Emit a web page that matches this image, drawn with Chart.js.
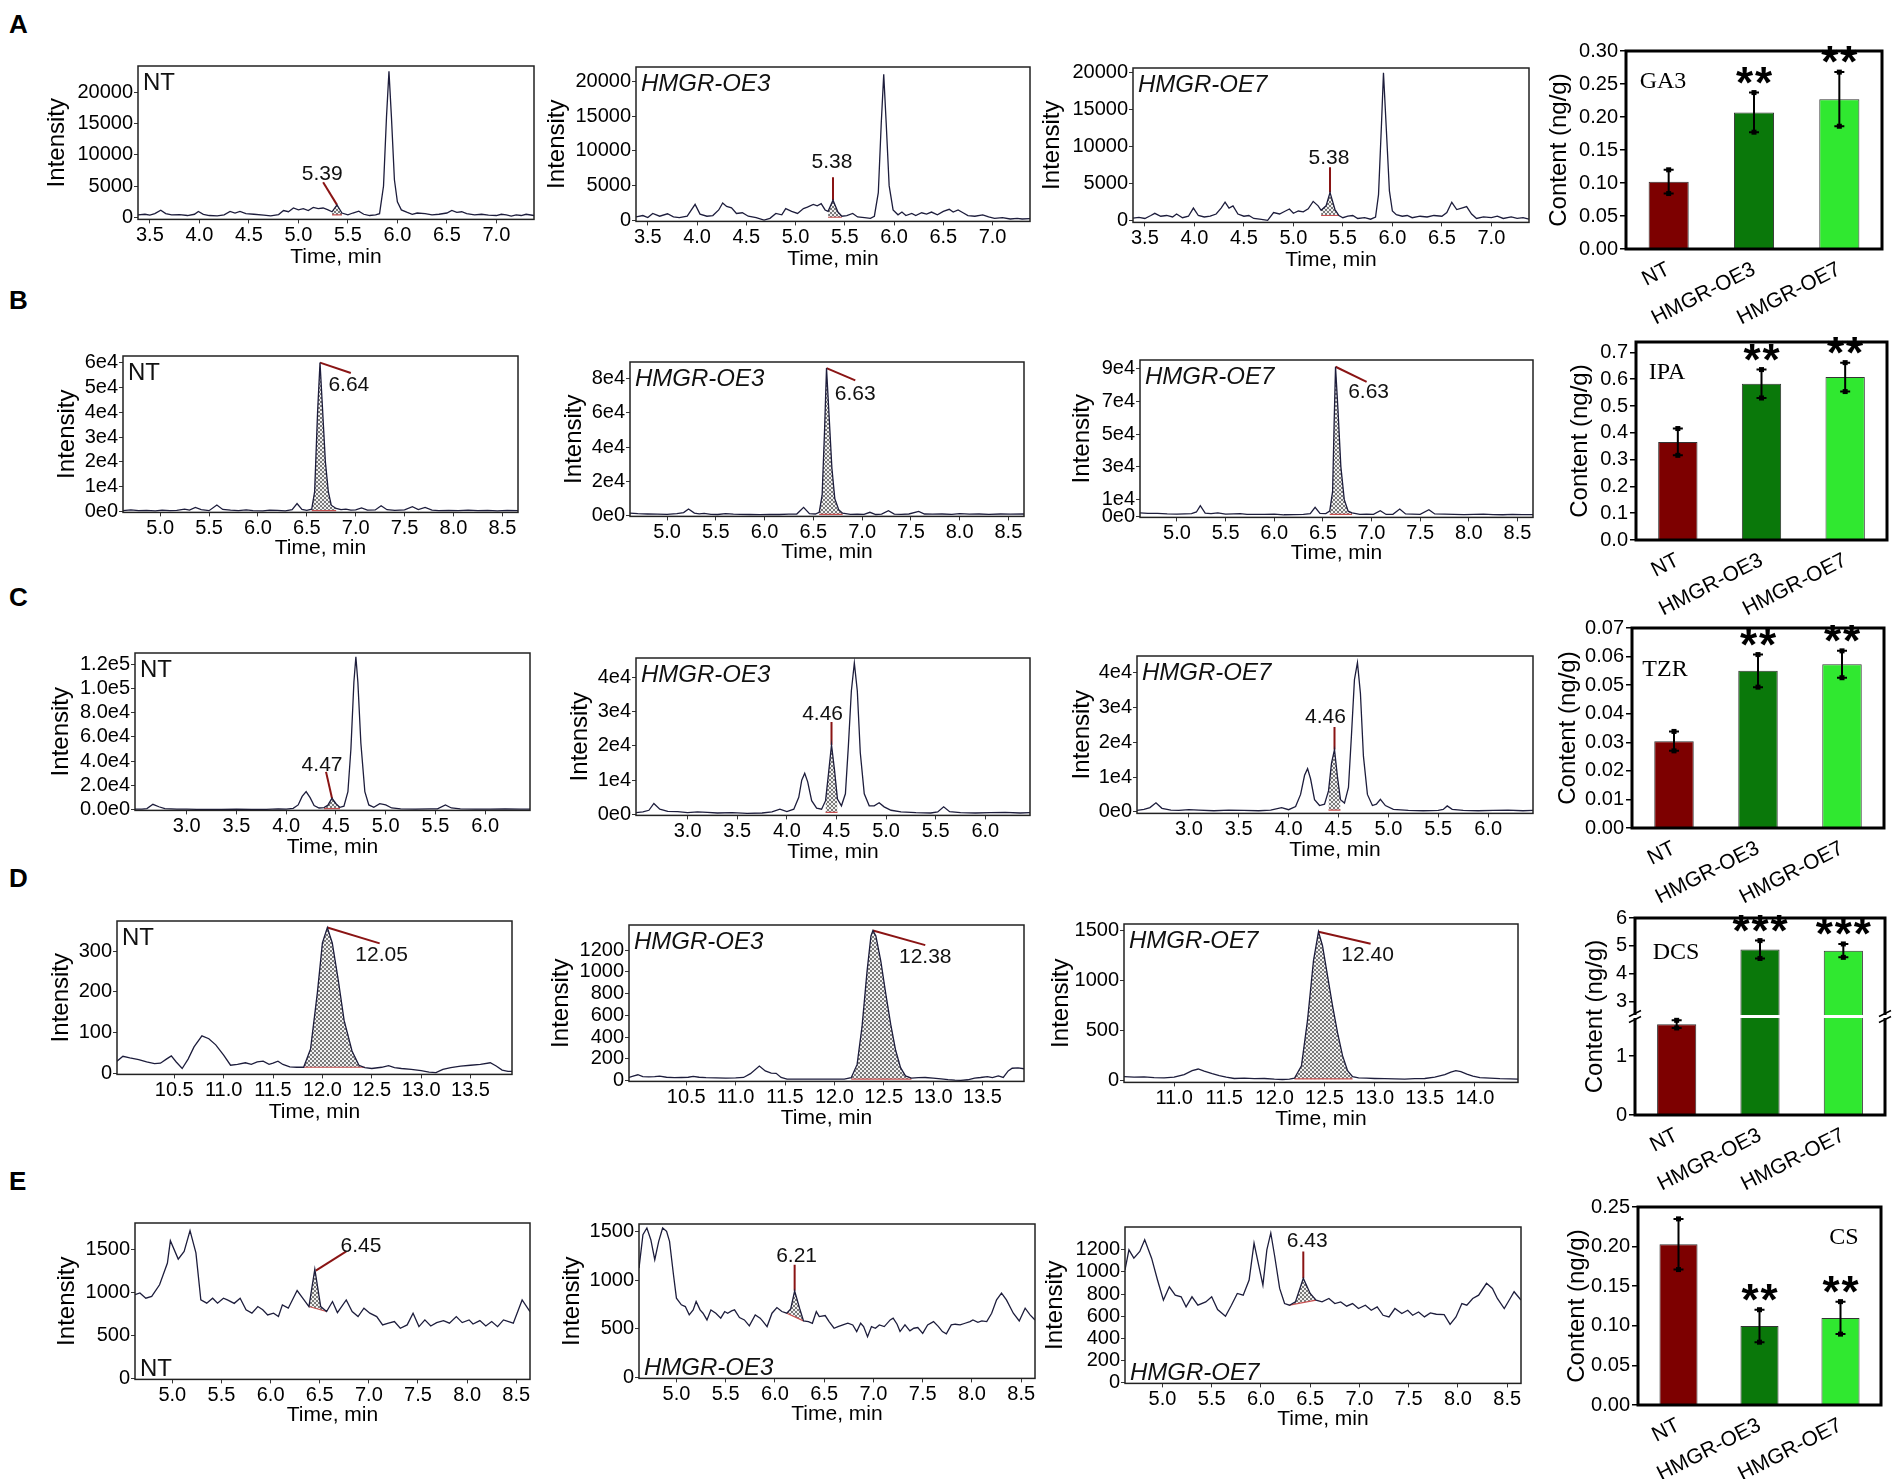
<!DOCTYPE html>
<html><head><meta charset="utf-8"><title>HMGR hormone chromatograms</title>
<script src="https://cdn.jsdelivr.net/npm/chart.js@4.4.0/dist/chart.umd.min.js"></script>
<style>
html,body{margin:0;padding:0;background:#fff}
body{position:relative;width:1904px;height:1479px;overflow:hidden}
canvas{position:absolute}
.lt{position:absolute;font:bold 26px 'Liberation Sans',Arial,sans-serif;line-height:1;color:#000}
</style></head><body>
<div class="lt" style="left:9px;top:11px">A</div>
<div class="lt" style="left:9px;top:287px">B</div>
<div class="lt" style="left:9px;top:584px">C</div>
<div class="lt" style="left:9px;top:865px">D</div>
<div class="lt" style="left:9px;top:1168px">E</div>
<script>
const FONT="'Liberation Sans', Arial, Helvetica, sans-serif";
const SERIF="'Liberation Serif', 'Times New Roman', serif";
Chart.defaults.color='#000';
Chart.defaults.font.family=FONT;

// ---------------- chromatogram traces [time (min), intensity] ----------------
const A_NT=[[3.38,400],[3.45,500],[3.5,350],[3.55,600],[3.61,1150],[3.66,600],[3.72,400],[3.8,450],[3.88,300],[3.95,500],[3.99,950],[4.04,500],[4.1,300],[4.18,250],[4.25,400],[4.31,950],[4.36,700],[4.41,950],[4.47,600],[4.55,500],[4.65,350],[4.72,250],[4.8,450],[4.85,1100],[4.9,900],[4.95,1500],[5.0,1200],[5.05,1400],[5.1,1100],[5.15,1600],[5.2,1400],[5.25,1500],[5.3,1200],[5.34,900],[5.39,2000],[5.44,700],[5.5,400],[5.55,700],[5.61,1000],[5.66,500],[5.72,300],[5.78,400],[5.82,600],[5.86,5000],[5.89,16000],[5.915,23300],[5.94,16000],[5.97,6000],[6.0,2500],[6.04,1200],[6.1,800],[6.15,500],[6.2,700],[6.28,600],[6.35,400],[6.42,500],[6.5,700],[6.55,1100],[6.6,800],[6.65,900],[6.7,600],[6.78,400],[6.85,500],[6.92,350],[7.0,300],[7.05,500],[7.1,400],[7.15,200],[7.2,400],[7.25,300],[7.3,500],[7.38,300]];
const A_OE3=[[3.38,500],[3.45,700],[3.5,400],[3.55,1000],[3.62,600],[3.7,950],[3.76,500],[3.82,400],[3.9,600],[3.98,2300],[4.03,900],[4.1,600],[4.16,700],[4.22,1500],[4.26,2500],[4.3,2000],[4.35,1800],[4.4,1000],[4.46,1100],[4.52,600],[4.6,400],[4.68,50],[4.74,300],[4.8,1000],[4.86,800],[4.9,1700],[4.96,1300],[5.02,1000],[5.08,1700],[5.12,1900],[5.18,2300],[5.22,2100],[5.26,2400],[5.3,1500],[5.33,1300],[5.38,2900],[5.43,1200],[5.47,600],[5.52,700],[5.58,1000],[5.63,500],[5.7,400],[5.76,300],[5.8,600],[5.84,4000],[5.87,14000],[5.895,21000],[5.92,14000],[5.95,5000],[5.99,1500],[6.04,800],[6.08,1200],[6.12,700],[6.18,1000],[6.22,700],[6.28,1100],[6.33,900],[6.38,1200],[6.44,800],[6.5,1300],[6.56,1600],[6.6,1200],[6.65,1500],[6.7,1100],[6.75,700],[6.82,600],[6.9,800],[6.96,500],[7.02,300],[7.1,400],[7.18,200],[7.25,300],[7.3,200],[7.38,250]];
const A_OE7=[[3.38,350],[3.44,450],[3.5,300],[3.56,700],[3.6,990],[3.66,600],[3.72,700],[3.78,500],[3.82,900],[3.88,400],[3.94,600],[3.99,1700],[4.04,700],[4.1,500],[4.16,600],[4.22,900],[4.27,1700],[4.31,2500],[4.35,1700],[4.39,2000],[4.44,900],[4.5,600],[4.55,700],[4.6,300],[4.66,200],[4.74,50],[4.8,1100],[4.86,900],[4.92,1300],[4.96,1570],[5.0,1000],[5.05,1300],[5.1,1200],[5.15,1600],[5.2,2600],[5.25,2000],[5.28,1400],[5.33,2000],[5.37,3800],[5.42,1500],[5.46,700],[5.5,400],[5.55,600],[5.6,700],[5.65,300],[5.72,400],[5.78,200],[5.83,500],[5.86,3500],[5.89,13000],[5.91,19900],[5.94,12000],[5.97,4000],[6.0,1300],[6.04,800],[6.1,600],[6.15,700],[6.2,400],[6.28,600],[6.35,500],[6.42,700],[6.5,600],[6.55,1100],[6.6,2470],[6.65,1500],[6.7,1700],[6.75,1900],[6.8,900],[6.85,300],[6.92,500],[7.0,400],[7.06,600],[7.12,300],[7.2,500],[7.26,300],[7.32,400],[7.38,200]];
const B_NT=[[4.62,300],[4.7,600],[4.78,300],[4.86,400],[4.95,200],[5.02,500],[5.1,300],[5.17,400],[5.25,900],[5.3,500],[5.36,1600],[5.42,700],[5.5,300],[5.58,2560],[5.64,800],[5.72,500],[5.8,300],[5.88,600],[5.95,300],[6.05,200],[6.12,500],[6.2,400],[6.28,200],[6.35,700],[6.4,3200],[6.45,800],[6.5,400],[6.55,900],[6.58,8000],[6.61,40000],[6.635,60000],[6.66,42000],[6.69,20000],[6.72,8000],[6.75,2500],[6.8,1200],[6.85,700],[6.9,900],[6.95,500],[7.0,600],[7.06,1400],[7.12,500],[7.2,600],[7.26,2300],[7.32,700],[7.4,400],[7.5,600],[7.58,1900],[7.64,700],[7.71,1600],[7.78,500],[7.85,300],[7.95,400],[8.05,300],[8.15,500],[8.25,300],[8.35,400],[8.45,200],[8.55,400],[8.66,300]];
const B_OE3=[[4.62,1500],[4.7,1200],[4.8,1000],[4.9,900],[5.0,800],[5.1,1200],[5.17,1800],[5.22,3900],[5.28,1500],[5.33,1100],[5.38,1400],[5.45,800],[5.52,700],[5.6,1200],[5.68,900],[5.75,800],[5.85,700],[5.95,600],[6.05,800],[6.15,700],[6.25,900],[6.33,1000],[6.4,4900],[6.46,1200],[6.52,1000],[6.56,2000],[6.59,12000],[6.615,50000],[6.635,86200],[6.66,60000],[6.69,28000],[6.72,10000],[6.76,3500],[6.8,1500],[6.88,800],[6.95,900],[7.02,800],[7.08,2000],[7.14,700],[7.2,900],[7.27,2900],[7.33,900],[7.4,800],[7.48,1000],[7.58,2500],[7.64,1000],[7.72,900],[7.82,1000],[7.92,800],[8.0,1200],[8.1,900],[8.2,1000],[8.3,800],[8.42,1000],[8.52,900],[8.66,1000]];
const B_OE7=[[4.62,2000],[4.7,1700],[4.8,1600],[4.9,1300],[5.0,1200],[5.08,1400],[5.15,1500],[5.2,2500],[5.24,6300],[5.29,1800],[5.35,1500],[5.42,2000],[5.5,1200],[5.58,1400],[5.65,1500],[5.72,1000],[5.8,1100],[5.9,1000],[6.0,1200],[6.1,800],[6.2,900],[6.3,1000],[6.37,1500],[6.42,5300],[6.47,1600],[6.53,1500],[6.57,3000],[6.6,15000],[6.615,55000],[6.63,91000],[6.655,65000],[6.685,30000],[6.72,10000],[6.76,3000],[6.8,2000],[6.88,1000],[6.95,1200],[7.02,1100],[7.09,3300],[7.15,1000],[7.22,1100],[7.29,4300],[7.35,1300],[7.42,1200],[7.5,1100],[7.59,3900],[7.65,1300],[7.75,1200],[7.85,1000],[7.95,900],[8.05,1000],[8.15,1200],[8.25,900],[8.35,800],[8.45,1000],[8.55,900],[8.66,900]];
const C_NT=[[2.48,500],[2.55,600],[2.6,1000],[2.66,4500],[2.72,2500],[2.78,1000],[2.9,500],[3.0,600],[3.1,300],[3.2,400],[3.35,300],[3.5,500],[3.65,300],[3.8,400],[3.92,800],[4.0,600],[4.07,1200],[4.12,4000],[4.16,11000],[4.2,15000],[4.24,10000],[4.28,3500],[4.33,1500],[4.38,1800],[4.42,4000],[4.46,9500],[4.5,5000],[4.54,2000],[4.58,3000],[4.62,15000],[4.65,50000],[4.68,105000],[4.7,126000],[4.72,105000],[4.75,55000],[4.79,15000],[4.83,4000],[4.88,2000],[4.94,5000],[5.0,4000],[5.06,1500],[5.15,800],[5.3,600],[5.45,700],[5.52,800],[5.6,4000],[5.66,1500],[5.75,700],[5.9,500],[6.05,600],[6.2,700],[6.35,500],[6.45,600]];
const C_OE3=[[2.48,500],[2.55,700],[2.61,1200],[2.66,3200],[2.72,1500],[2.8,900],[2.9,800],[3.0,500],[3.1,700],[3.2,600],[3.3,400],[3.45,500],[3.6,300],[3.75,400],[3.85,700],[3.93,1500],[4.0,800],[4.07,1500],[4.12,5000],[4.15,10000],[4.18,12000],[4.21,9500],[4.25,4000],[4.3,1800],[4.35,1500],[4.39,4000],[4.42,12000],[4.45,20300],[4.48,13000],[4.51,4500],[4.55,2500],[4.59,6000],[4.62,20000],[4.65,36000],[4.68,44200],[4.71,36000],[4.74,18000],[4.78,6000],[4.83,2500],[4.88,2500],[4.93,3400],[4.98,2200],[5.05,1200],[5.15,700],[5.3,500],[5.45,400],[5.52,700],[5.58,2200],[5.64,800],[5.75,500],[5.9,400],[6.05,500],[6.2,600],[6.35,400],[6.45,500]];
const C_OE7=[[2.48,400],[2.55,700],[2.61,1200],[2.67,2600],[2.73,1000],[2.82,500],[2.9,400],[3.0,600],[3.1,500],[3.25,300],[3.4,500],[3.55,400],[3.7,300],[3.82,500],[3.93,1200],[4.0,600],[4.07,1500],[4.12,5000],[4.16,10500],[4.19,12400],[4.22,9500],[4.26,3500],[4.31,1800],[4.36,2200],[4.4,6000],[4.43,14000],[4.46,17900],[4.49,10000],[4.52,3500],[4.56,2500],[4.6,7000],[4.63,22000],[4.66,38000],[4.69,42900],[4.72,34000],[4.75,16000],[4.79,5000],[4.84,1800],[4.88,2200],[4.92,3600],[4.97,1800],[5.05,700],[5.2,400],[5.35,300],[5.5,400],[5.55,700],[5.59,1700],[5.64,700],[5.75,400],[5.9,300],[6.05,400],[6.2,500],[6.35,300],[6.45,400]];
const D_NT=[[9.92,30],[9.98,42],[10.05,38],[10.14,34],[10.22,28],[10.3,24],[10.36,25],[10.42,35],[10.47,43],[10.52,28],[10.58,12],[10.64,35],[10.7,65],[10.78,92],[10.85,85],[10.92,70],[11.0,45],[11.07,20],[11.14,22],[11.22,26],[11.28,22],[11.34,28],[11.4,30],[11.46,22],[11.5,25],[11.55,30],[11.6,22],[11.67,16],[11.74,15],[11.81,15],[11.88,60],[11.95,200],[12.0,320],[12.05,358],[12.1,320],[12.16,230],[12.22,130],[12.3,55],[12.37,20],[12.43,14],[12.5,12],[12.6,15],[12.67,19],[12.73,14],[12.8,12],[12.9,10],[13.0,7],[13.08,3],[13.15,2],[13.22,10],[13.3,14],[13.4,18],[13.5,20],[13.6,22],[13.7,26],[13.76,18],[13.82,8],[13.88,5],[13.92,5]];
const D_OE3=[[9.92,30],[9.97,45],[10.01,55],[10.06,38],[10.12,35],[10.18,38],[10.23,42],[10.3,32],[10.38,28],[10.45,30],[10.52,32],[10.57,40],[10.63,32],[10.7,28],[10.8,26],[10.9,24],[11.0,26],[11.08,30],[11.15,65],[11.24,135],[11.3,90],[11.36,70],[11.41,68],[11.46,30],[11.52,15],[11.6,14],[11.7,14],[11.8,14],[11.9,14],[12.0,14],[12.1,15],[12.17,28],[12.23,150],[12.28,500],[12.33,1000],[12.37,1330],[12.39,1380],[12.42,1330],[12.47,1100],[12.52,800],[12.57,520],[12.62,280],[12.67,120],[12.72,45],[12.78,25],[12.85,28],[12.92,30],[13.0,25],[13.08,18],[13.15,10],[13.22,5],[13.28,3],[13.35,9],[13.42,25],[13.48,30],[13.55,38],[13.6,28],[13.66,45],[13.71,31],[13.76,90],[13.8,115],[13.86,118],[13.92,110]];
const D_OE7=[[10.5,40],[10.6,35],[10.7,38],[10.8,30],[10.9,28],[11.0,35],[11.1,60],[11.18,100],[11.24,117],[11.3,95],[11.38,70],[11.45,50],[11.52,35],[11.6,22],[11.7,25],[11.8,20],[11.9,22],[12.0,15],[12.08,12],[12.15,15],[12.2,25],[12.27,150],[12.33,600],[12.39,1200],[12.44,1490],[12.48,1350],[12.53,1050],[12.58,750],[12.63,480],[12.68,250],[12.73,100],[12.78,40],[12.84,28],[12.92,25],[13.0,22],[13.1,20],[13.2,18],[13.3,15],[13.4,20],[13.5,22],[13.6,35],[13.7,60],[13.76,85],[13.81,100],[13.86,90],[13.92,65],[13.98,45],[14.05,30],[14.15,25],[14.25,20],[14.35,18],[14.43,15]];
const E_NT=[[4.62,970],[4.67,990],[4.73,930],[4.79,950],[4.87,1085],[4.95,1337],[4.98,1597],[5.06,1383],[5.12,1473],[5.18,1713],[5.24,1455],[5.29,910],[5.35,872],[5.41,930],[5.46,872],[5.52,930],[5.56,910],[5.63,870],[5.69,930],[5.75,795],[5.81,756],[5.87,833],[5.92,795],[5.97,736],[6.03,756],[6.08,717],[6.12,852],[6.18,814],[6.27,1019],[6.34,910],[6.39,833],[6.45,1267],[6.51,833],[6.57,775],[6.63,891],[6.68,763],[6.77,910],[6.83,775],[6.89,717],[6.95,814],[7.01,756],[7.08,717],[7.14,620],[7.2,640],[7.26,659],[7.32,581],[7.39,620],[7.45,756],[7.51,600],[7.57,678],[7.63,608],[7.69,647],[7.76,670],[7.82,640],[7.89,717],[7.95,647],[8.02,678],[8.06,630],[8.13,670],[8.19,608],[8.25,659],[8.31,600],[8.37,678],[8.47,640],[8.56,910],[8.64,775]];
const E_OE3=[[4.62,1123],[4.66,1466],[4.7,1534],[4.74,1414],[4.78,1209],[4.82,1397],[4.86,1534],[4.9,1500],[4.93,1397],[4.97,1055],[5.0,815],[5.05,747],[5.09,729],[5.13,644],[5.17,695],[5.2,781],[5.24,695],[5.27,661],[5.31,592],[5.35,695],[5.4,661],[5.45,610],[5.49,678],[5.52,661],[5.56,685],[5.59,695],[5.64,616],[5.69,592],[5.74,531],[5.8,644],[5.85,610],[5.88,575],[5.92,524],[5.97,661],[6.02,719],[6.07,678],[6.12,661],[6.16,705],[6.2,890],[6.25,712],[6.29,582],[6.34,575],[6.38,558],[6.42,678],[6.45,627],[6.51,637],[6.55,575],[6.6,507],[6.64,524],[6.69,541],[6.74,558],[6.79,541],[6.83,473],[6.87,558],[6.9,524],[6.94,421],[6.98,524],[7.02,507],[7.06,541],[7.11,524],[7.17,592],[7.2,610],[7.24,548],[7.27,473],[7.32,541],[7.37,480],[7.41,507],[7.45,514],[7.5,455],[7.55,541],[7.61,575],[7.66,524],[7.7,473],[7.74,449],[7.79,541],[7.83,548],[7.88,541],[7.93,558],[7.98,575],[8.01,592],[8.06,568],[8.1,582],[8.15,575],[8.2,661],[8.25,798],[8.3,866],[8.35,798],[8.42,661],[8.48,582],[8.54,712],[8.59,644],[8.64,592]];
const E_OE7=[[4.62,1018],[4.66,1200],[4.71,1125],[4.77,1185],[4.82,1292],[4.89,1125],[4.95,927],[5.01,745],[5.07,866],[5.13,790],[5.19,775],[5.24,684],[5.3,775],[5.36,699],[5.44,729],[5.5,775],[5.56,660],[5.64,599],[5.7,699],[5.76,805],[5.82,790],[5.88,927],[5.93,1261],[5.98,1049],[6.02,881],[6.06,1200],[6.1,1353],[6.14,1140],[6.19,851],[6.24,714],[6.29,699],[6.35,729],[6.43,942],[6.5,805],[6.56,745],[6.62,729],[6.69,760],[6.75,714],[6.81,729],[6.87,690],[6.93,714],[6.99,669],[7.06,699],[7.12,653],[7.18,684],[7.24,608],[7.3,593],[7.36,669],[7.43,623],[7.49,653],[7.54,608],[7.6,638],[7.66,593],[7.72,629],[7.78,617],[7.86,614],[7.92,526],[7.98,593],[8.04,714],[8.09,699],[8.15,760],[8.21,790],[8.29,897],[8.35,851],[8.4,760],[8.47,669],[8.53,760],[8.57,821],[8.64,745]];

// integrated peaks: [start time, end time, baseline at start, baseline at end]
const A_NT_PEAK=[5.34,5.44,400,400], A_OE3_PEAK=[5.33,5.47,450,450], A_OE7_PEAK=[5.28,5.46,700,700];
const B_NT_PEAK=[6.55,6.8,300,300], B_OE3_PEAK=[6.56,6.8,800,800], B_OE7_PEAK=[6.57,6.8,1100,1100];
const C_NT_PEAK=[4.38,4.54,900,900], C_OE3_PEAK=[4.39,4.51,600,600], C_OE7_PEAK=[4.4,4.52,500,500];
const D_NT_PEAK=[11.81,12.43,15,15], D_OE3_PEAK=[12.17,12.78,15,15], D_OE7_PEAK=[12.2,12.78,18,18];
const E_NT_PEAK=[6.39,6.57,833,775], E_OE3_PEAK=[6.12,6.29,661,582], E_OE7_PEAK=[6.29,6.56,699,745];

// tick values / labels
const xTicksA=[3.5,4,4.5,5,5.5,6,6.5,7];
const xTicksB=[5,5.5,6,6.5,7,7.5,8,8.5];
const xTicksC=[3,3.5,4,4.5,5,5.5,6];
const xTicksD=[10.5,11,11.5,12,12.5,13,13.5];
const xTicksD7=[11,11.5,12,12.5,13,13.5,14];
const xTicksE=[5,5.5,6,6.5,7,7.5,8,8.5];
const yTicksA=[0,5000,10000,15000,20000], yLabA=['0','5000','10000','15000','20000'];
const yTicksBnt=[0,1e4,2e4,3e4,4e4,5e4,6e4], yLabBnt=['0e0','1e4','2e4','3e4','4e4','5e4','6e4'];
const yTicksB3=[0,2e4,4e4,6e4,8e4], yLabB3=['0e0','2e4','4e4','6e4','8e4'];
const yTicksB7=[0,1e4,3e4,5e4,7e4,9e4], yLabB7=['0e0','1e4','3e4','5e4','7e4','9e4'];
const yTicksCnt=[0,2e4,4e4,6e4,8e4,1e5,1.2e5], yLabCnt=['0.0e0','2.0e4','4.0e4','6.0e4','8.0e4','1.0e5','1.2e5'];
const yTicksC=[0,1e4,2e4,3e4,4e4], yLabC=['0e0','1e4','2e4','3e4','4e4'];
const yTicksDnt=[0,100,200,300], yLabDnt=['0','100','200','300'];
const yTicksD3=[0,200,400,600,800,1000,1200], yLabD3=['0','200','400','600','800','1000','1200'];
const yTicksD7=[0,500,1000,1500], yLabD7=['0','500','1000','1500'];
const yTicksE=[0,500,1000,1500], yLabE=['0','500','1000','1500'];
const yTicksE7=[0,200,400,600,800,1000,1200], yLabE7=['0','200','400','600','800','1000','1200'];

// ---------------- bar charts: content (ng/g) ----------------
const barCats=['NT','HMGR-OE3','HMGR-OE7'];
const barColors=['#7d0000','#0a780a','#30e830'];
const GA3_VAL=[0.102,0.207,0.227], GA3_ERR=[0.018,0.030,0.041], GA3_STARS=['','**','**'];
const IPA_VAL=[0.366,0.583,0.608], IPA_ERR=[0.050,0.053,0.054], IPA_STARS=['','**','**'];
const TZR_VAL=[0.0304,0.055,0.0573], TZR_ERR=[0.0034,0.0057,0.0047], TZR_STARS=['','**','**'];
const DCS_VAL=[1.545,4.87,4.83], DCS_ERR=[0.065,0.32,0.24], DCS_STARS=['','***','***'];
const CS_VAL=[0.203,0.0998,0.110], CS_ERR=[0.032,0.0205,0.0205], CS_STARS=['','**','**'];
const GA3_TICKS=[0,0.05,0.1,0.15,0.2,0.25,0.3];
const IPA_TICKS=[0,0.1,0.2,0.3,0.4,0.5,0.6,0.7];
const TZR_TICKS=[0,0.01,0.02,0.03,0.04,0.05,0.06,0.07];
const DCS_LOW_TICKS=[0,1], DCS_HIGH_TICKS=[3,4,5,6];
const CS_TICKS=[0,0.05,0.1,0.15,0.2,0.25];

// ---------------- drawing helpers ----------------
const HATCH=(()=>{const c=document.createElement('canvas');c.width=4;c.height=4;const g=c.getContext('2d');
  g.fillStyle='#f0f0f0';g.fillRect(0,0,4,4);g.fillStyle='#7a7a7a';
  [[0,0],[1,1],[2,2],[3,3],[3,0],[2,1],[1,2],[0,3]].forEach(p=>g.fillRect(p[0],p[1],1,1));
  return g.createPattern(c,'repeat');})();

function mkCanvas(l,t,w,h){const c=document.createElement('canvas');w=Math.round(w);h=Math.round(h);
  c.width=w;c.height=h;c.style.left=l+'px';c.style.top=t+'px';c.style.width=w+'px';c.style.height=h+'px';
  document.body.appendChild(c);return c;}
const pts=a=>a.map(p=>({x:p[0],y:p[1]}));

function chrom(s){
  const padT=14,padR=16,padB=4,tf=21,lh=tf*1.2;
  const xh=s.tOff+lh/2;
  const bw=s.box[2]-s.box[0], bh=s.box[3]-s.box[1];
  const cv=mkCanvas(s.box[0]-s.yw, s.box[1]-padT, s.yw+bw+padR, padT+bh+xh+padB);
  const tr=s.trace, pk=s.peak;
  const shade=tr.filter(p=>p[0]>=pk[0]-1e-9&&p[0]<=pk[1]+1e-9);
  const base=[[pk[0],pk[2]],[pk[1],pk[3]]];
  new Chart(cv,{type:'line',
    data:{datasets:[
      {data:pts(tr),borderColor:'#1d1d3c',borderWidth:1.3,pointRadius:0,fill:false,order:0},
      {data:pts(shade),borderColor:'rgba(0,0,0,0)',borderWidth:0,pointRadius:0,backgroundColor:HATCH,fill:'+1',order:3},
      {data:pts(base),borderColor:'#c85050',borderWidth:1.2,pointRadius:0,fill:false,order:2},
      {data:pts(s.label.line),borderColor:'#8a1414',borderWidth:2,pointRadius:0,fill:false,order:0}
    ]},
    options:{responsive:false,animation:false,devicePixelRatio:1,events:[],
      layout:{padding:{top:padT,right:padR,bottom:padB,left:0}},
      plugins:{legend:{display:false},tooltip:{enabled:false}},
      scales:{
        x:{type:'linear',min:s.xr[0],max:s.xr[1],
          afterBuildTicks:sc=>{sc.ticks=s.xt.map(v=>({value:v}));},
          ticks:{autoSkip:false,maxRotation:0,font:{size:20},padding:0,callback:v=>Number(v).toFixed(1)},
          grid:{drawOnChartArea:false,tickLength:4,color:'#333'},border:{display:false},
          title:{display:true,text:'Time, min',font:{size:tf,lineHeight:1.2},padding:0},
          afterFit:sc=>{sc.height=xh;}},
        y:{type:'linear',min:s.yr[0],max:s.yr[1],
          afterBuildTicks:sc=>{sc.ticks=s.yt.map(v=>({value:v}));},
          ticks:{autoSkip:false,font:{size:20},padding:1,callback:(v,i)=>s.ytl[i]},
          grid:{drawOnChartArea:false,tickLength:4,color:'#333'},border:{display:false},
          title:{display:true,text:'Intensity',font:{size:24,lineHeight:1.2},padding:0},
          afterFit:sc=>{sc.width=s.yw;}}
      }},
    plugins:[{id:'cx',afterDraw(ch){
      const ctx=ch.ctx,a=ch.chartArea,x=ch.scales.x,y=ch.scales.y;
      ctx.save();
      ctx.strokeStyle='#222';ctx.lineWidth=1.5;ctx.strokeRect(a.left,a.top,a.right-a.left,a.bottom-a.top);
      ctx.fillStyle='#111';ctx.font='21px '+FONT;ctx.textAlign='center';ctx.textBaseline='middle';
      ctx.fillText(s.label.text,x.getPixelForValue(s.label.at[0]),y.getPixelForValue(s.label.at[1]));
      ctx.font=(s.it?'italic ':'')+'24px '+FONT;ctx.textAlign='left';
      if(s.pos==='bl'){ctx.textBaseline='alphabetic';ctx.fillText(s.tag,a.left+5,a.bottom-3);}
      else{ctx.textBaseline='top';ctx.fillText(s.tag,a.left+5,a.top+5);}
      ctx.restore();}}]
  });
}

function barChart(s){
  const padT=14,padR=14,xh=88,padB=2;
  const bw=s.box[2]-s.box[0], bh=s.box[3]-s.box[1];
  const L=s.box[0]-s.yw, T=s.box[1]-padT;
  const cv=mkCanvas(L,T,s.yw+bw+padR,padT+bh+xh+padB);
  const broken=!!s.low;
  const xScale={type:'category',offset:true,
    ticks:{autoSkip:false,minRotation:27,maxRotation:27,font:{size:21},padding:0},
    grid:{display:false},border:{display:false},afterFit:sc=>{sc.height=xh;}};
  const yBase=(min,max,ticks,title)=>({type:'linear',position:'left',min:min,max:max,
    afterBuildTicks:sc=>{sc.ticks=ticks.map(v=>({value:v}));},
    ticks:{autoSkip:false,font:{size:20},padding:2,callback:v=>s.dec===0?String(v):Number(v).toFixed(s.dec)},
    grid:{drawOnChartArea:false,tickLength:6,color:'#000',lineWidth:1.5},border:{display:false},
    title:title?{display:true,text:'Content (ng/g)',font:{size:24,lineHeight:1.2},padding:0}:{display:false},
    afterFit:sc=>{sc.width=s.yw;}});
  const common={backgroundColor:barColors,borderColor:'#333',borderWidth:1,barPercentage:0.47,categoryPercentage:1};
  let datasets,scales;
  if(!broken){
    datasets=[Object.assign({data:s.vals},common)];
    scales={x:xScale,y:yBase(s.yr[0],s.yr[1],s.yt,true)};
  }else{
    datasets=[
      Object.assign({data:s.vals.map(v=>Math.min(v,s.low[1])),yAxisID:'y',grouped:false},common),
      Object.assign({data:s.vals.map(v=>v>s.low[1]?v:null),yAxisID:'y2',base:s.high[0],grouped:false},common)];
    const yl=yBase(s.low[0],s.low[1],s.lowTicks,false);yl.stack='dcs';yl.stackWeight=1;
    const yh=yBase(s.high[0],s.high[1],s.highTicks,false);yh.stack='dcs';yh.stackWeight=1;
    scales={x:xScale,y:yl,y2:yh};
  }
  new Chart(cv,{type:'bar',data:{labels:barCats,datasets:datasets},
    options:{responsive:false,animation:false,devicePixelRatio:1,events:[],
      layout:{padding:{top:padT,right:padR,bottom:padB,left:0}},
      plugins:{legend:{display:false},tooltip:{enabled:false}},scales:scales},
    plugins:[{id:'bx',afterDraw(ch){
      const ctx=ch.ctx,a=ch.chartArea;
      ctx.save();
      ctx.strokeStyle='#000';ctx.lineWidth=3;ctx.strokeRect(a.left,a.top,a.right-a.left,a.bottom-a.top);
      if(broken){
        const yb=ch.scales.y.top;
        ctx.fillStyle='#fff';ctx.fillRect(a.left-6,yb-1.5,a.right-a.left+12,3);
        ctx.strokeStyle='#000';ctx.lineWidth=1.5;
        [a.left,a.right].forEach(x=>{[-3,3].forEach(d=>{ctx.beginPath();ctx.moveTo(x-6,yb+d+3);ctx.lineTo(x+6,yb+d-3);ctx.stroke();});});
        ctx.save();ctx.translate(s.titleX-L,(a.top+a.bottom)/2);ctx.rotate(-Math.PI/2);
        ctx.font='24px '+FONT;ctx.fillStyle='#000';ctx.textAlign='center';ctx.textBaseline='middle';
        ctx.fillText('Content (ng/g)',0,0);ctx.restore();
      }
      const meta=ch.getDatasetMeta(0);
      s.vals.forEach((v,i)=>{
        const ys=broken?(v>s.low[1]?ch.scales.y2:ch.scales.y):ch.scales.y;
        const bx=meta.data[i].x,yt=ys.getPixelForValue(v+s.errs[i]),yb2=ys.getPixelForValue(v-s.errs[i]);
        ctx.strokeStyle='#000';ctx.fillStyle='#000';ctx.lineWidth=2;
        ctx.beginPath();ctx.moveTo(bx,yt);ctx.lineTo(bx,yb2);
        ctx.moveTo(bx-5,yt);ctx.lineTo(bx+5,yt);ctx.moveTo(bx-5,yb2);ctx.lineTo(bx+5,yb2);ctx.stroke();
        ctx.fillRect(bx-2.5,yt-2.5,5,5);ctx.fillRect(bx-2.5,yb2-2.5,5,5);
        const st=s.stars[i];
        if(st){ctx.font='bold 44px '+FONT;ctx.textAlign='center';ctx.textBaseline='alphabetic';
          for(let k=0;k<st.length;k++)ctx.fillText('*',bx+(k-(st.length-1)/2)*19,yt+5);}
      });
      ctx.font='24px '+SERIF;ctx.textAlign='center';ctx.textBaseline='middle';ctx.fillStyle='#000';
      ctx.fillText(s.name,s.nameAt[0]-L,s.nameAt[1]-T);
      ctx.restore();}}]
  });
}

// ---------------- panels ----------------
chrom({box:[138,66,534,219],yw:95,tOff:38,trace:A_NT,peak:A_NT_PEAK,xr:[3.38,7.38],yr:[-320,24160],xt:xTicksA,yt:yTicksA,ytl:yLabA,tag:'NT',it:false,pos:'tl',
  label:{text:'5.39',line:[[5.39,2000],[5.25,5600]],at:[5.24,6930]}});
chrom({box:[636,67,1030,221],yw:93,tOff:38,trace:A_OE3,peak:A_OE3_PEAK,xr:[3.38,7.38],yr:[-144,22060],xt:xTicksA,yt:yTicksA,ytl:yLabA,tag:'HMGR-OE3',it:true,pos:'tl',
  label:{text:'5.38',line:[[5.38,2900],[5.38,6200]],at:[5.37,8300]}});
chrom({box:[1133,68,1529,222],yw:95,tOff:38,trace:A_OE7,peak:A_OE7_PEAK,xr:[3.38,7.38],yr:[-230,20540],xt:xTicksA,yt:yTicksA,ytl:yLabA,tag:'HMGR-OE7',it:true,pos:'tl',
  label:{text:'5.38',line:[[5.37,3800],[5.37,7200]],at:[5.36,8450]}});

chrom({box:[123,356,518,512],yw:70,tOff:36,trace:B_NT,peak:B_NT_PEAK,xr:[4.62,8.66],yr:[-400,62670],xt:xTicksB,yt:yTicksBnt,ytl:yLabBnt,tag:'NT',it:false,pos:'tl',
  label:{text:'6.64',line:[[6.635,60000],[6.95,55800]],at:[6.93,50800]}});
chrom({box:[630,362,1024,516],yw:70,tOff:36,trace:B_OE3,peak:B_OE3_PEAK,xr:[4.62,8.66],yr:[-400,89770],xt:xTicksB,yt:yTicksB3,ytl:yLabB3,tag:'HMGR-OE3',it:true,pos:'tl',
  label:{text:'6.63',line:[[6.635,86200],[6.93,79000]],at:[6.93,71200]}});
chrom({box:[1140,360,1533,517],yw:72,tOff:36,trace:B_OE7,peak:B_OE7_PEAK,xr:[4.62,8.66],yr:[-800,95100],xt:xTicksB,yt:yTicksB7,ytl:yLabB7,tag:'HMGR-OE7',it:true,pos:'tl',
  label:{text:'6.63',line:[[6.63,91000],[6.95,81800]],at:[6.97,75700]}});

chrom({box:[135,653,530,810],yw:88,tOff:37,trace:C_NT,peak:C_NT_PEAK,xr:[2.48,6.45],yr:[-500,129100],xt:xTicksC,yt:yTicksCnt,ytl:yLabCnt,tag:'NT',it:false,pos:'tl',
  label:{text:'4.47',line:[[4.46,9500],[4.4,31200]],at:[4.36,36700]}});
chrom({box:[636,658,1030,815],yw:70,tOff:37,trace:C_OE3,peak:C_OE3_PEAK,xr:[2.48,6.45],yr:[-300,45650],xt:xTicksC,yt:yTicksC,ytl:yLabC,tag:'HMGR-OE3',it:true,pos:'tl',
  label:{text:'4.46',line:[[4.45,20300],[4.45,27000]],at:[4.36,29100]}});
chrom({box:[1137,656,1533,813],yw:69,tOff:37,trace:C_OE7,peak:C_OE7_PEAK,xr:[2.48,6.45],yr:[-460,44800],xt:xTicksC,yt:yTicksC,ytl:yLabC,tag:'HMGR-OE7',it:true,pos:'tl',
  label:{text:'4.46',line:[[4.46,17900],[4.46,24400]],at:[4.37,27300]}});

chrom({box:[117,921,512,1074],yw:70,tOff:38,trace:D_NT,peak:D_NT_PEAK,xr:[9.92,13.92],yr:[-2.5,374],xt:xTicksD,yt:yTicksDnt,ytl:yLabDnt,tag:'NT',it:false,pos:'tl',
  label:{text:'12.05',line:[[12.05,358],[12.58,319]],at:[12.6,290]}});
chrom({box:[629,925,1024,1081],yw:82,tOff:37,trace:D_OE3,peak:D_OE3_PEAK,xr:[9.92,13.92],yr:[-6,1431],xt:xTicksD,yt:yTicksD3,ytl:yLabD3,tag:'HMGR-OE3',it:true,pos:'tl',
  label:{text:'12.38',line:[[12.39,1380],[12.92,1246]],at:[12.92,1138]}});
chrom({box:[1124,924,1518,1082],yw:77,tOff:37,trace:D_OE7,peak:D_OE7_PEAK,xr:[10.5,14.43],yr:[-17,1567],xt:xTicksD7,yt:yTicksD7,ytl:yLabD7,tag:'HMGR-OE7',it:true,pos:'tl',
  label:{text:'12.40',line:[[12.44,1490],[12.96,1369]],at:[12.93,1258]}});

chrom({box:[135,1223,530,1379],yw:82,tOff:36,trace:E_NT,peak:E_NT_PEAK,xr:[4.62,8.64],yr:[-12,1802],xt:xTicksE,yt:yTicksE,ytl:yLabE,tag:'NT',it:false,pos:'bl',
  label:{text:'6.45',line:[[6.46,1250],[6.77,1472]],at:[6.92,1538]}});
chrom({box:[639,1224,1035,1378],yw:81,tOff:36,trace:E_OE3,peak:E_OE3_PEAK,xr:[4.62,8.64],yr:[-7,1575],xt:xTicksE,yt:yTicksE,ytl:yLabE,tag:'HMGR-OE3',it:true,pos:'bl',
  label:{text:'6.21',line:[[6.2,890],[6.2,1158]],at:[6.22,1243]}});
chrom({box:[1125,1227,1521,1383],yw:84,tOff:36,trace:E_OE7,peak:E_OE7_PEAK,xr:[4.62,8.64],yr:[-9,1407],xt:xTicksE,yt:yTicksE7,ytl:yLabE7,tag:'HMGR-OE7',it:true,pos:'bl',
  label:{text:'6.43',line:[[6.43,942],[6.43,1185]],at:[6.47,1277]}});

barChart({box:[1626,51,1882,249],yw:81,vals:GA3_VAL,errs:GA3_ERR,stars:GA3_STARS,yr:[0,0.3],yt:GA3_TICKS,dec:2,name:'GA3',nameAt:[1663,82]});
barChart({box:[1636,342,1887,540],yw:70,vals:IPA_VAL,errs:IPA_ERR,stars:IPA_STARS,yr:[0,0.739],yt:IPA_TICKS,dec:1,name:'IPA',nameAt:[1667,373]});
barChart({box:[1632,628,1884,828],yw:78,vals:TZR_VAL,errs:TZR_ERR,stars:TZR_STARS,yr:[0,0.07],yt:TZR_TICKS,dec:2,name:'TZR',nameAt:[1665,670]});
barChart({box:[1635,918,1885,1115],yw:60,vals:DCS_VAL,errs:DCS_ERR,stars:DCS_STARS,low:[0,1.675],high:[2.47,6],lowTicks:DCS_LOW_TICKS,highTicks:DCS_HIGH_TICKS,dec:0,titleX:1595,name:'DCS',nameAt:[1676,953]});
barChart({box:[1638,1207,1881,1405],yw:75,vals:CS_VAL,errs:CS_ERR,stars:CS_STARS,yr:[0,0.25],yt:CS_TICKS,dec:2,name:'CS',nameAt:[1844,1238]});
</script></body></html>
